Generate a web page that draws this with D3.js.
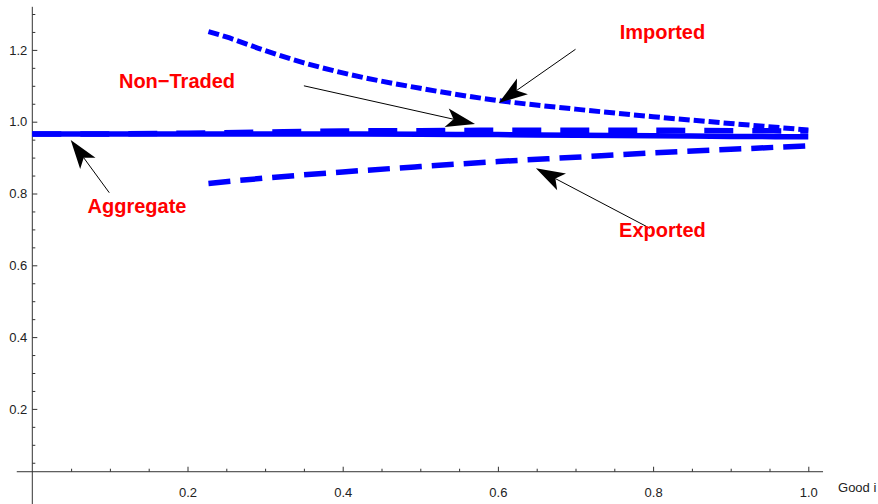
<!DOCTYPE html>
<html>
<head>
<meta charset="utf-8">
<script src="https://cdn.jsdelivr.net/npm/d3@7"></script>
<style>
  html, body { margin: 0; padding: 0; background: #fff; }
  svg { display: block; }
</style>
</head>
<body>
<svg id="chart" width="878" height="504"></svg>
<script>
// Relative price by good index i, for each category of goods
const goodAll = [0, 0.1, 0.2, 0.3, 0.4, 0.5, 0.6, 0.7, 0.8, 0.9, 1.0];
const aggregate = [0.966, 0.966, 0.966, 0.966, 0.966, 0.965, 0.964, 0.962, 0.961, 0.959, 0.958];
const nonTraded = [0.966, 0.966, 0.968, 0.971, 0.974, 0.975, 0.976, 0.976, 0.976, 0.975, 0.974];

const goodImp = [0.227, 0.25, 0.3, 0.35, 0.4, 0.5, 0.6, 0.7, 0.8, 0.9, 1.0];
const imported = [1.251, 1.236, 1.198, 1.164, 1.136, 1.093, 1.059, 1.035, 1.014, 0.995, 0.977];

const goodExp = [0.227, 0.3, 0.4, 0.5, 0.6, 0.7, 0.8, 0.9, 1.0];
const exported = [0.828, 0.843, 0.860, 0.875, 0.889, 0.901, 0.913, 0.923, 0.933];

const xMajor = [0.2, 0.4, 0.6, 0.8, 1.0];
const yMajor = [0.2, 0.4, 0.6, 0.8, 1.0, 1.2];
const axisLabelX = "Good i";

// Annotations: label text and position, arrow tail and tip (data units)
const labels = [
  { text: "Imported",   x: 0.812, y: 1.2295, fx: 0.700, fy: 1.2017, tx: 0.601, ty: 1.052 },
  { text: "Non\u2212Traded", x: 0.1865, y: 1.093, fx: 0.350, fy: 1.100, tx: 0.5705, ty: 0.9936 },
  { text: "Aggregate",  x: 0.1349, y: 0.7443, fx: 0.0992, fy: 0.8022, tx: 0.0495, ty: 0.949 },
  { text: "Exported",   x: 0.812, y: 0.678,  fx: 0.796, fy: 0.703, tx: 0.649, ty: 0.870 }
];

const svg = d3.select("#chart");
const x = d3.scaleLinear().domain([0, 1]).range([32.3, 808.3]);
const y = d3.scaleLinear().domain([0, 1]).range([480.7, 121.7]);

const axisColor = "#333";
const originY = 0.025;           // where the horizontal axis crosses
const xAxisY = y(originY);
const tickFont = "'Liberation Sans', Arial, sans-serif";

// Axis lines
svg.append("line")
  .attr("x1", x(-0.02)).attr("x2", x(1.019))
  .attr("y1", xAxisY).attr("y2", xAxisY)
  .attr("stroke", axisColor).attr("stroke-width", 1);
svg.append("line")
  .attr("x1", x(0)).attr("x2", x(0))
  .attr("y1", y(1.32)).attr("y2", 504)
  .attr("stroke", axisColor).attr("stroke-width", 1);

const fmt = d3.format(".1f");
const xMinor = d3.range(1, 21).map(i => i * 0.05).filter(v => !xMajor.some(m => Math.abs(m - v) < 1e-6));
const yMinor = d3.range(1, 27).map(i => i * 0.05).filter(v => !yMajor.some(m => Math.abs(m - v) < 1e-6));

function styleAxis(g) {
  g.select(".domain").remove();
  g.selectAll("line").attr("stroke", axisColor);
  g.selectAll("text").attr("fill", "#222")
    .style("font-family", tickFont).style("font-size", "13px");
}

svg.append("g").attr("transform", `translate(0,${xAxisY})`)
  .call(d3.axisBottom(x).tickValues(xMajor).tickSize(-5).tickPadding(16).tickFormat(fmt))
  .call(styleAxis);
svg.append("g").attr("transform", `translate(0,${xAxisY})`)
  .call(d3.axisBottom(x).tickValues(xMinor).tickSize(-3).tickFormat(""))
  .call(styleAxis);
svg.append("g").attr("transform", `translate(${x(0)},0)`)
  .call(d3.axisLeft(y).tickValues(yMajor).tickSize(-5).tickPadding(5).tickFormat(fmt))
  .call(styleAxis);
svg.append("g").attr("transform", `translate(${x(0)},0)`)
  .call(d3.axisLeft(y).tickValues(yMinor).tickSize(-3).tickFormat(""))
  .call(styleAxis);

svg.append("text")
  .attr("x", x(1.019) + 15).attr("y", xAxisY + 20)
  .attr("fill", "#222")
  .style("font-family", tickFont).style("font-size", "13px")
  .text(axisLabelX);

// Series
const line = d3.line().x(d => x(d[0])).y(d => y(d[1])).curve(d3.curveMonotoneX);
const blue = "#0000ff";
const series = [
  { xs: goodAll, ys: aggregate, dash: null, w: 5.5 },
  { xs: goodAll, ys: nonTraded, dash: "29,19", w: 5.5 },
  { xs: goodExp, ys: exported,  dash: "22,10", w: 5.5 },
  { xs: goodImp, ys: imported,  dash: "11,4",  w: 5 }
];
series.forEach(s => {
  svg.append("path")
    .datum(s.xs.map((v, i) => [v, s.ys[i]]))
    .attr("d", line)
    .attr("fill", "none")
    .attr("stroke", blue)
    .attr("stroke-width", s.w)
    .attr("stroke-linecap", "butt")
    .attr("stroke-dasharray", s.dash);
});

// Arrows with notched heads
const headLen = 29, headHalf = 9.5, notch = 22;
labels.forEach(a => {
  const x1 = x(a.fx), y1 = y(a.fy), x2 = x(a.tx), y2 = y(a.ty);
  const dx = x2 - x1, dy = y2 - y1, L = Math.hypot(dx, dy);
  const ux = dx / L, uy = dy / L, px = -uy, py = ux;
  svg.append("line")
    .attr("x1", x1).attr("y1", y1)
    .attr("x2", x2 - ux * notch).attr("y2", y2 - uy * notch)
    .attr("stroke", "#000").attr("stroke-width", 1);
  const bx = x2 - ux * headLen, by = y2 - uy * headLen;
  const pts = [
    [x2, y2],
    [bx + px * headHalf, by + py * headHalf],
    [x2 - ux * notch, y2 - uy * notch],
    [bx - px * headHalf, by - py * headHalf]
  ];
  svg.append("polygon")
    .attr("points", pts.map(p => p.join(",")).join(" "))
    .attr("fill", "#000");
  svg.append("text")
    .attr("x", x(a.x)).attr("y", y(a.y))
    .attr("text-anchor", "middle")
    .attr("fill", "#ff0000")
    .style("font-family", "'Liberation Sans', Arial, sans-serif")
    .style("font-size", "20px").style("font-weight", "bold")
    .text(a.text);
});
</script>
</body>
</html>
